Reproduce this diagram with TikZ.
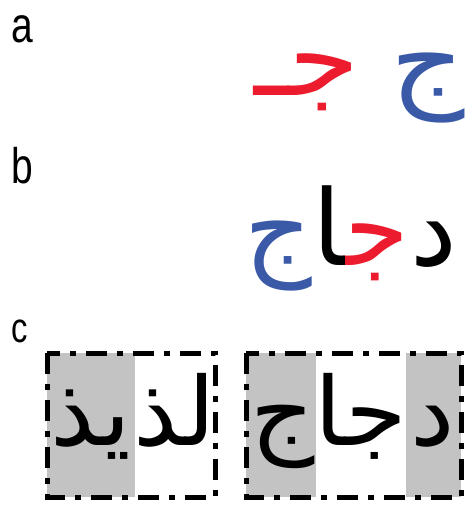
\documentclass[tikz,border=0pt]{standalone}
\usepackage{fontspec}
\setmainfont{Liberation Sans}
\newfontfamily\arabicfont[Script=Arabic]{DejaVu Sans}
\TeXXeTstate=1
\definecolor{jred}{RGB}{236,28,46}
\definecolor{jblue}{RGB}{58,90,168}
\definecolor{boxgray}{RGB}{195,195,195}
\begin{document}
\begin{tikzpicture}[x=1pt,y=-1pt,
  panel/.style={inner sep=0pt,anchor=base west,font=\fontsize{50}{50}\selectfont,xscale=0.78},
  arbig/.style={inner sep=0pt,font=\fontsize{105}{105}\selectfont\arabicfont,xscale=1.1},
  arword/.style={inner sep=0pt,anchor=base east,font=\fontsize{105}{105}\selectfont\arabicfont,xscale=1.0},
  arsmall/.style={inner sep=0pt,anchor=base,font=\fontsize{95}{95}\selectfont\arabicfont,xscale=1.05},
  framebox/.style={line width=5pt,dash pattern=on 21pt off 10pt on 6pt off 10pt}]
\useasboundingbox (0,0) rectangle (465,506);
% panel letters
\node[panel] (la) at (11,42) {a};
\node[panel] (lb) at (11,183) {b};
\node[panel,font=\fontsize{42}{42}\selectfont] (lc) at (11,342) {c};
% a: isolated and initial jeem
\node[arbig,anchor=base,text=jblue] (isoj) at (428,97) {\beginR ج\endR};
\node[arbig,anchor=base,text=jred] (inij) at (307,95) {\beginR جـ\endR};
% b: the word, set letter by letter so each can take its own colour
\node[arword] (wd) at (457,265) {\beginR د\endR};
\node[arword,text=jred] (wj) at (wd.base west) {\beginR ج^^^^200d\endR};
\node[arword] (wa) at (wj.base west) {\beginR ^^^^200dا\endR};
\node[arword,text=jblue] (wf) at (wa.base west) {\beginR ج\endR};
% c: shaded letter groups
\fill[boxgray] (47,353) rectangle (135,497);
\fill[boxgray] (246,353) rectangle (316,497);
\fill[boxgray] (406,353) rectangle (461,497);
\node[arsmall] (g1) at (91,445) {\beginR يذ\endR};
\node[arsmall] (g2) at (175,445) {\beginR لذ\endR};
\node[arsmall] (g3) at (283,445) {\beginR ج\endR};
\node[arsmall] (g4) at (361,445) {\beginR جا\endR};
\node[arsmall] (g5) at (433,445) {\beginR د\endR};
\draw[framebox] (47,353) rectangle (215,497);
\draw[framebox] (246,353) rectangle (461,497);
\end{tikzpicture}
\end{document}
